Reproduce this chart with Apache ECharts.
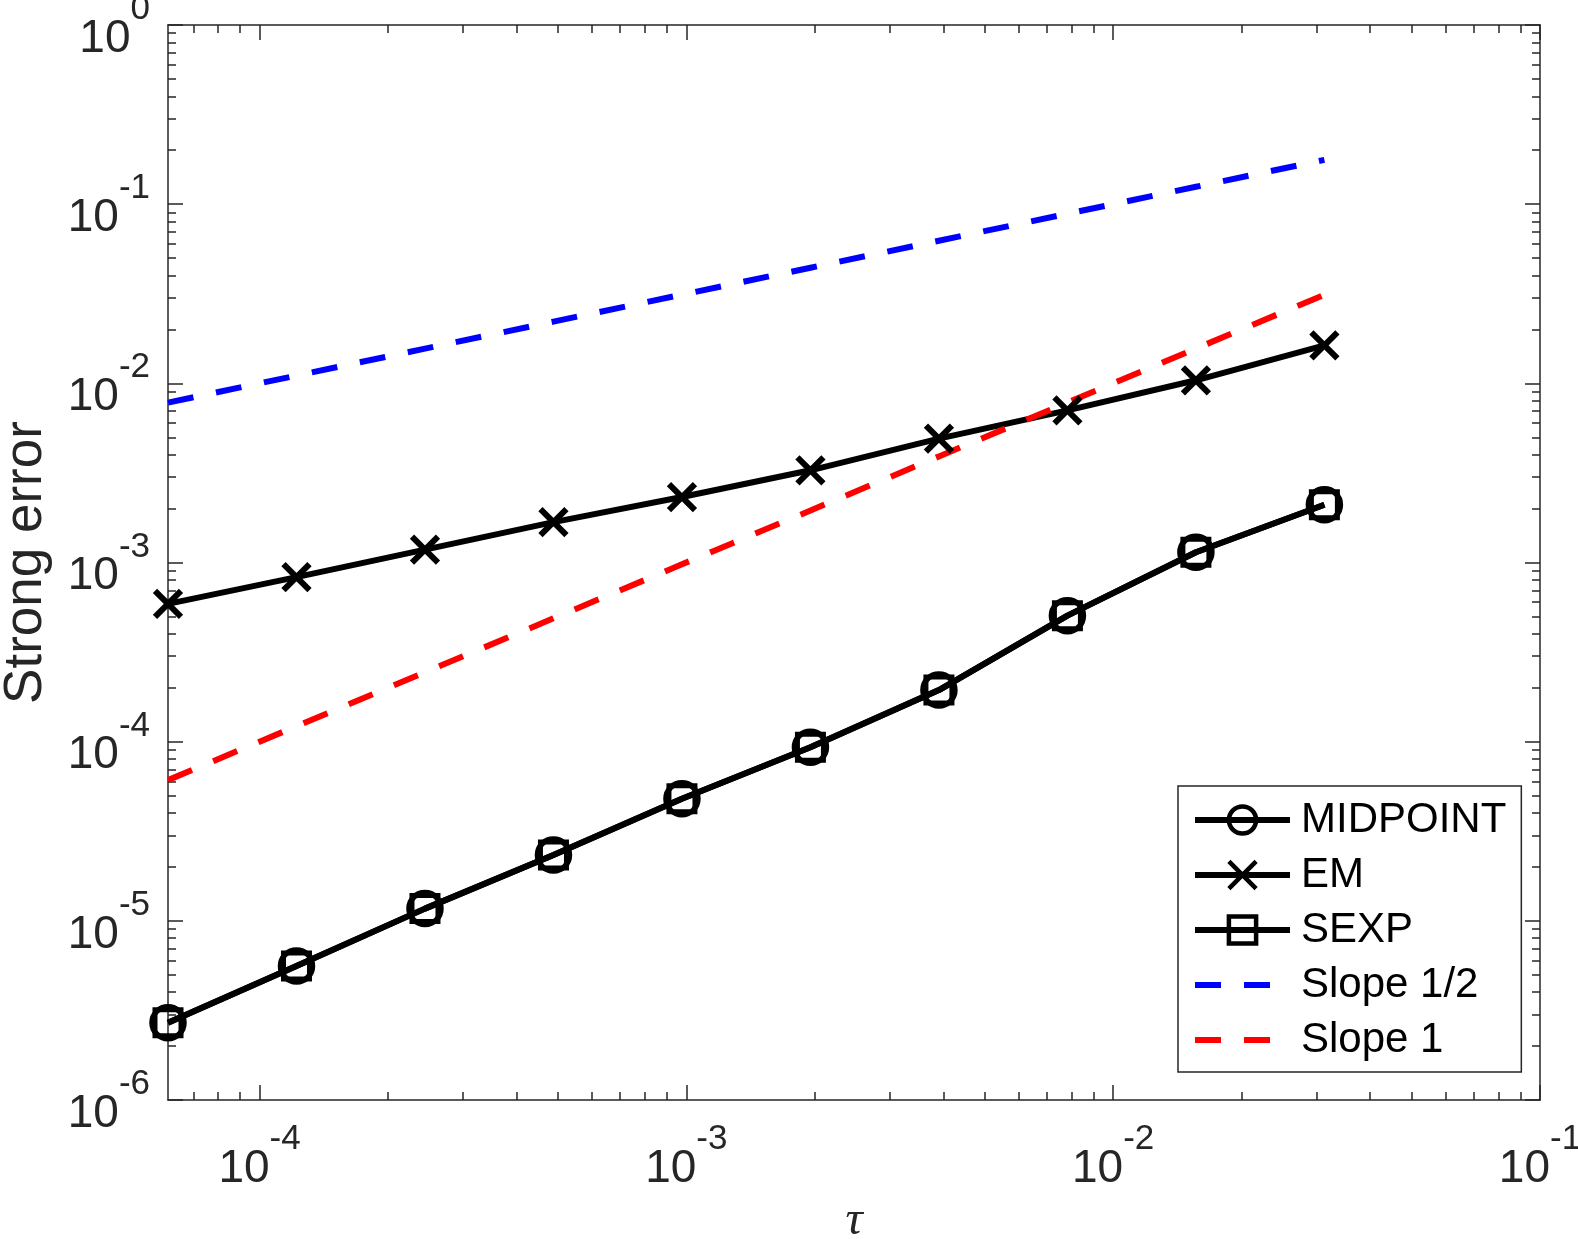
<!DOCTYPE html>
<html>
<head>
<meta charset="utf-8">
<script src="https://cdn.jsdelivr.net/npm/echarts@6/dist/echarts.min.js"></script>
<style>
html, body { margin: 0; padding: 0; background: #fff; }
#chart { width: 1578px; height: 1239px; }
</style>
</head>
<body>
<div id="chart"></div>
<script>
// step sizes tau = 2^-14 ... 2^-5
var tau = [6.1035e-5, 1.2207e-4, 2.4414e-4, 4.8828e-4, 9.7656e-4, 1.9531e-3, 3.9063e-3, 7.8125e-3, 1.5625e-2, 3.125e-2];
// strong errors
var midpoint = [2.70e-6, 5.60e-6, 1.17e-5, 2.33e-5, 4.80e-5, 9.30e-5, 1.94e-4, 5.05e-4, 1.14e-3, 2.10e-3];
var em = [5.88e-4, 8.28e-4, 1.18e-3, 1.68e-3, 2.32e-3, 3.27e-3, 4.91e-3, 7.07e-3, 1.04e-2, 1.63e-2];
var sexp = [2.70e-6, 5.60e-6, 1.17e-5, 2.33e-5, 4.80e-5, 9.30e-5, 1.94e-4, 5.05e-4, 1.14e-3, 2.10e-3];
// reference slopes
var slopeHalf = [7.81e-3, 1.105e-2, 1.5625e-2, 2.21e-2, 3.125e-2, 4.42e-2, 6.25e-2, 8.84e-2, 0.125, 0.1768];
var slopeOne = [6.10e-5, 1.22e-4, 2.44e-4, 4.88e-4, 9.77e-4, 1.95e-3, 3.91e-3, 7.81e-3, 1.5625e-2, 3.125e-2];
// axes
var xRange = [6.1035e-5, 1e-1];
var yRange = [1e-6, 1e0];
var xMajor = [1e-4, 1e-3, 1e-2, 1e-1];
var yMajor = [1e-6, 1e-5, 1e-4, 1e-3, 1e-2, 1e-1, 1e0];

var axisColor = '#262626';
var clear = 'rgba(0,0,0,0)';

function lg(v) { return Math.log10(v); }
function pairs(xs, ys) {
    return xs.map(function (x, i) { return [lg(x), lg(ys[i])]; });
}
function minorTicks(range) {
    var out = [];
    for (var d = Math.floor(lg(range[0])); d < Math.ceil(lg(range[1])); d++) {
        for (var k = 2; k <= 9; k++) {
            var v = k * Math.pow(10, d);
            if (v > range[0] && v < range[1]) out.push(lg(v));
        }
    }
    return out;
}

var richSup = {
    b: { fontSize: 46, fontFamily: 'Liberation Sans', color: axisColor, lineHeight: 70, verticalAlign: 'bottom' },
    s: { fontSize: 35, fontFamily: 'Liberation Sans', color: axisColor, lineHeight: 30, verticalAlign: 'top' }
};
function supFmt(v) { return '{b|10}{s|' + Math.round(v) + '}'; }

function makeAxis(pos, range, ticks, len, withLine) {
    return {
        type: 'value',
        position: pos,
        min: lg(range[0]),
        max: lg(range[1]),
        axisLine: { show: withLine, onZero: false, lineStyle: { color: axisColor, width: 1.5 } },
        axisTick: { show: true, inside: true, length: len, customValues: ticks, lineStyle: { color: axisColor, width: 1.5 } },
        axisLabel: { show: false },
        splitLine: { show: false }
    };
}

var xMajLg = xMajor.map(lg), yMajLg = yMajor.map(lg);

var xBottom = makeAxis('bottom', xRange, xMajLg, 15, true);
xBottom.axisLabel = { show: true, customValues: xMajLg, margin: 22, formatter: supFmt, rich: richSup };
xBottom.name = 'τ';
xBottom.nameLocation = 'middle';
xBottom.nameGap = 97;
xBottom.nameTextStyle = { fontSize: 48, fontStyle: 'italic', fontFamily: 'Liberation Serif', color: axisColor };

var yLeft = makeAxis('left', yRange, yMajLg, 15, true);
yLeft.axisLabel = { show: true, customValues: yMajLg, margin: 18, padding: [4, 0, 0, 0], formatter: supFmt, rich: richSup };
yLeft.name = 'Strong error';
yLeft.nameLocation = 'middle';
yLeft.nameRotate = 90;
yLeft.nameGap = 115;
yLeft.nameTextStyle = { fontSize: 53, fontFamily: 'Liberation Sans', color: axisColor };

var xAxes = [
    xBottom,
    makeAxis('bottom', xRange, minorTicks(xRange), 8, false),
    makeAxis('top', xRange, xMajLg, 15, true),
    makeAxis('top', xRange, minorTicks(xRange), 8, false)
];
var yAxes = [
    yLeft,
    makeAxis('left', yRange, minorTicks(yRange), 8, false),
    makeAxis('right', yRange, yMajLg, 15, true),
    makeAxis('right', yRange, minorTicks(yRange), 8, false)
];

function markerSeries(name, ys, symbol, size, bw) {
    return {
        name: name,
        type: 'line',
        data: pairs(tau, ys),
        symbol: symbol,
        symbolSize: size,
        showAllSymbol: true,
        lineStyle: { color: '#000', width: 6 },
        itemStyle: { color: clear, borderColor: '#000', borderWidth: bw },
        emphasis: { disabled: true }
    };
}
function slopeSeries(name, ys, color) {
    return {
        name: name,
        type: 'line',
        data: pairs(tau, ys),
        symbol: 'none',
        lineStyle: { color: color, width: 6, type: [26, 23] },
        itemStyle: { color: clear, borderColor: clear, borderWidth: 0 },
        emphasis: { disabled: true }
    };
}

var option = {
    animation: false,
    backgroundColor: '#fff',
    grid: { left: 168, right: 38, top: 25, bottom: 139, containLabel: false, outerBoundsMode: 'none' },
    xAxis: xAxes,
    yAxis: yAxes,
    legend: {
        orient: 'vertical',
        left: 1178,
        top: 786,
        padding: [13, 15, 11, 14],
        itemGap: 13,
        itemWidth: 95,
        itemHeight: 34,
        backgroundColor: '#fff',
        borderColor: axisColor,
        borderWidth: 1.5,
        selectedMode: false,
        textStyle: { fontSize: 42, color: '#000', fontFamily: 'Liberation Sans', padding: [0, 0, 0, 6] },
        itemStyle: { borderWidth: 4.5 },
        lineStyle: { width: 6 },
        data: ['MIDPOINT', 'EM', 'SEXP', 'Slope 1/2', 'Slope 1']
    },
    series: [
        markerSeries('MIDPOINT', midpoint, 'circle', 32, 5.5),
        markerSeries('EM', em, 'path://M0,0L10,10M10,0L0,10', 26, 6),
        markerSeries('SEXP', sexp, 'rect', 26, 5),
        slopeSeries('Slope 1/2', slopeHalf, '#0000ff'),
        slopeSeries('Slope 1', slopeOne, '#ff0000')
    ]
};

var myChart = echarts.init(document.getElementById('chart'));
myChart.setOption(option);
</script>
</body>
</html>
